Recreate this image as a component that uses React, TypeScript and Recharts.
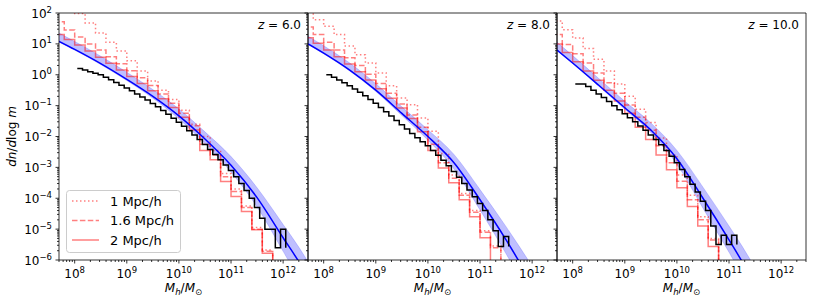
import React from "react";
import { ComposedChart, Line, Area, XAxis, YAxis, Legend } from "recharts";

const W = 814;
const H = 304;
const TOP = 13;
const BOTTOM = 260;
const FONT = "DejaVu Sans, Verdana, sans-serif";

const xDomain = [5e7, 3e12];
const yDomain = [1e-6, 1e2];
const xMajor = [1e8, 1e9, 1e10, 1e11, 1e12];
const yMajor = [1e-6, 1e-5, 1e-4, 1e-3, 1e-2, 1e-1, 1e0, 1e1, 1e2];
const minorSubs = [2, 3, 4, 5, 6, 7, 8, 9];

const legendLabels = ["1 Mpc/h", "1.6 Mpc/h", "2 Mpc/h"];

// histogram binning (log10 M): black = simulation, red = boxes
const blackStart = 8.05;
const blackWidth = 0.1;
const boxStart = 7.6;
const boxWidth = 0.2;

// ---- z = 6 ---- (all values log10)
const curveLogM6 = [7.7, 8.0, 8.5, 9.0, 9.5, 10.0, 10.5, 11.0, 11.5, 12.0, 12.3, 12.5];
const curve6 = [1.08, 0.82, 0.36, -0.15, -0.7, -1.33, -2.08, -2.93, -3.98, -5.28, -6.05, -6.6];
const bandHi6 = [1.35, 1.08, 0.6, 0.08, -0.48, -1.11, -1.85, -2.65, -3.66, -4.85, -5.58, -6.12];
const bandLo6 = [1.06, 0.8, 0.33, -0.19, -0.76, -1.43, -2.23, -3.15, -4.28, -5.72, -6.6, -7.2];
const black6 = [
  0.2, 0.15, 0.1, 0.05, 0.0, -0.08, -0.16, -0.25, -0.34, -0.43, -0.52, -0.62, -0.72, -0.82,
  -0.93, -1.04, -1.16, -1.28, -1.41, -1.54, -1.67, -1.81, -1.95, -2.1, -2.26, -2.42, -2.58,
  -2.75, -2.92, -3.1, -3.3, -3.52, -3.75, -4.0, -4.3, -4.65, -5.0, -5.0, -5.6, -5.0,
];
const solid6 = [1.3, 1.14, 0.96, 0.77, 0.57, 0.37, 0.15, -0.06, -0.28, -0.52, -0.78, -1.06, -1.38, -1.79, -2.45, -2.75, -3.46, -3.94, -4.43, -5.02, -5.78];
const dashed6 = [1.72, 1.45, 1.22, 1.0, 0.8, 0.58, 0.36, 0.13, -0.1, -0.35, -0.62, -0.92, -1.25, -1.65, -2.25, -2.6, -3.3, -3.78, -4.3, -5.0, -5.72];
const dotted6 = [2.5, 2.2, 1.98, 1.68, 1.35, 1.05, 0.77, 0.45, 0.12, -0.2, -0.5, -0.8, -1.15, -1.6, -2.0, -2.45, -3.2, -3.7, -4.25, -4.95, -5.68];

// ---- z = 8 ----
const curveLogM8 = [7.7, 8.0, 8.5, 9.0, 9.5, 10.0, 10.5, 11.0, 11.5, 11.75, 12.0];
const curve8 = [1.0, 0.7, 0.15, -0.5, -1.25, -2.0, -2.85, -4.05, -5.35, -6.05, -6.8];
const bandHi8 = [1.25, 0.94, 0.38, -0.29, -1.04, -1.78, -2.58, -3.72, -4.92, -5.55, -6.2];
const bandLo8 = [0.98, 0.68, 0.12, -0.54, -1.32, -2.12, -3.05, -4.38, -5.8, -6.55, -7.4];
const black8 = [
  0.0, -0.08, -0.17, -0.26, -0.36, -0.46, -0.57, -0.68, -0.8, -0.92, -1.06, -1.2, -1.34,
  -1.48, -1.62, -1.76, -1.9, -2.04, -2.17, -2.3, -2.45, -2.61, -2.77, -2.95, -3.13, -3.32,
  -3.52, -3.73, -3.95, -4.17, -4.4, -4.7, -5.05, -5.56, -5.24,
];
const solid8 = [1.2, 1.02, 0.8, 0.58, 0.35, 0.1, -0.17, -0.45, -0.76, -1.08, -1.42, -1.85, -2.45, -3.02, -3.5, -4.05, -4.6, -5.28];
const dashed8 = [1.55, 1.3, 1.05, 0.8, 0.55, 0.3, 0.02, -0.28, -0.6, -0.95, -1.3, -1.7, -2.25, -2.85, -3.35, -3.9, -4.45, -5.1, -5.6];
const dotted8 = [2.3, 1.78, 1.57, 1.3, 0.93, 0.65, 0.38, 0.06, -0.36, -0.75, -0.97, -1.4, -1.83, -2.55, -3.25, -3.85, -4.4, -5.05, -5.55];

// ---- z = 10 ----
const curveLogM10 = [7.7, 8.0, 8.5, 9.0, 9.5, 10.0, 10.5, 11.0, 11.25, 11.5];
const curve10 = [0.8, 0.38, -0.34, -1.07, -1.79, -2.72, -4.0, -5.35, -6.05, -6.8];
const bandHi10 = [1.05, 0.62, -0.12, -0.86, -1.56, -2.45, -3.64, -4.9, -5.55, -6.25];
const bandLo10 = [0.78, 0.36, -0.37, -1.12, -1.87, -2.9, -4.32, -5.75, -6.5, -7.3];
const black10 = [
  -0.3, -0.3, -0.38, -0.5, -0.62, -0.74, -0.87, -1.0, -1.13, -1.26, -1.39, -1.52, -1.66,
  -1.8, -1.95, -2.1, -2.27, -2.45, -2.64, -2.85, -3.07, -3.3, -3.55, -3.8, -4.1, -4.4, -4.9,
  -5.5, -5.2, -5.5, -5.2,
];
const solid10 = [1.0, 0.72, 0.42, 0.12, -0.18, -0.5, -0.85, -1.25, -1.7, -2.1, -2.6, -3.08, -3.66, -4.27, -4.9, -5.56];
const dashed10 = [1.3, 0.98, 0.68, 0.38, 0.06, -0.26, -0.6, -0.98, -1.38, -1.8, -2.3, -2.85, -3.45, -4.05, -4.7, -5.35];
const dotted10 = [1.74, 1.46, 1.19, 0.85, 0.5, 0.12, -0.3, -0.7, -1.12, -1.55, -2.05, -2.6, -3.25, -3.9, -4.6, -5.3];

const panels = [
  { left: 59, right: 308, z: "6.0", cm: curveLogM6, c: curve6, hi: bandHi6, lo: bandLo6, black: black6, blackEnd: -5.6, solid: solid6, dashed: dashed6, dotted: dotted6 },
  { left: 308, right: 557, z: "8.0", cm: curveLogM8, c: curve8, hi: bandHi8, lo: bandLo8, black: black8, blackEnd: -5.56, solid: solid8, dashed: dashed8, dotted: dotted8 },
  { left: 557, right: 806, z: "10.0", cm: curveLogM10, c: curve10, hi: bandHi10, lo: bandLo10, black: black10, blackEnd: -5.5, solid: solid10, dashed: dashed10, dotted: dotted10 },
];

const withMinor = (majors: number[], lo: number, hi: number) => {
  const out: number[] = [...majors];
  for (let e = -7; e <= 12; e++) {
    for (const s of minorSubs) {
      const v = s * Math.pow(10, e);
      if (v >= lo * 0.999 && v <= hi * 1.001) out.push(v);
    }
  }
  return out.sort((a, b) => a - b);
};
const xTicks = withMinor(xMajor, xDomain[0], xDomain[1]);
const yTicks = withMinor(yMajor, yDomain[0], yDomain[1]);

const curveRows = (p: any) =>
  p.cm.map((m: number, i: number) => ({
    m: Math.pow(10, m),
    n: Math.pow(10, p.c[i]),
    band: [Math.pow(10, p.lo[i]), Math.pow(10, p.hi[i])],
  }));

const stepRows = (start: number, width: number, vals: number[], end: number) => {
  const rows = vals.map((v, i) => ({ m: Math.pow(10, start + i * width), n: Math.pow(10, v) }));
  const lastEdge = Math.pow(10, start + vals.length * width);
  rows.push({ m: lastEdge, n: Math.pow(10, vals[vals.length - 1]) });
  rows.push({ m: lastEdge, n: Math.pow(10, end) });
  return rows;
};

const isMajor = (v: number) => {
  const e = Math.round(Math.log10(v));
  return Math.abs(v / Math.pow(10, e) - 1) < 1e-6;
};
const expText = (v: number) => {
  const e = Math.round(Math.log10(v));
  return e < 0 ? "\u2212" + -e : String(e);
};

function XTick(props: any) {
  const { x, y, payload } = props;
  const major = isMajor(payload.value);
  return (
    <g>
      <line x1={x} x2={x} y1={y} y2={y + (major ? 3.5 : 2)} stroke="#000" strokeWidth={0.8} />
      {major && (
        <text x={x} y={y + 18} textAnchor="middle" fontFamily={FONT} fontSize={12} fill="#000">
          10
          <tspan dy={-5} fontSize={8.5}>
            {expText(payload.value)}
          </tspan>
        </text>
      )}
    </g>
  );
}

function YTick(props: any) {
  const { x, y, payload, showLabel } = props;
  const major = isMajor(payload.value);
  return (
    <g>
      <line x1={x - (major ? 3.5 : 2)} x2={x} y1={y} y2={y} stroke="#000" strokeWidth={0.8} />
      {major && showLabel && (
        <text x={x - 7} y={y + 4.5} textAnchor="end" fontFamily={FONT} fontSize={12} fill="#000">
          10
          <tspan dy={-5} fontSize={8.5}>
            {expText(payload.value)}
          </tspan>
        </text>
      )}
    </g>
  );
}

const RED = "#ff0000";

function LegendBox() {
  const rows = [
    { label: legendLabels[0], dash: "1.5 2.5" },
    { label: legendLabels[1], dash: "5.5 2.4" },
    { label: legendLabels[2], dash: undefined },
  ];
  return (
    <svg width={116} height={64} style={{ display: "block" }}>
      <rect x={0.5} y={0.5} width={114} height={62} rx={3} fill="#fff" fillOpacity={0.8} stroke="#cccccc" />
      {rows.map((r, i) => (
        <g key={r.label}>
          <line x1={6} x2={33} y1={11 + i * 19.5} y2={11 + i * 19.5} stroke={RED} strokeOpacity={0.5} strokeWidth={1.5} strokeDasharray={r.dash} />
          <text x={44} y={15.5 + i * 19.5} fontFamily={FONT} fontSize={13} fill="#000">
            {r.label}
          </text>
        </g>
      ))}
    </svg>
  );
}

// axes need a size of at least 1px or recharts skips drawing them
const AX = 1;

function Panel({ p, idx }: { p: any; idx: number }) {
  const rows = curveRows(p);
  const blackRows = stepRows(blackStart, blackWidth, p.black, p.blackEnd);
  const solidRows = stepRows(boxStart, boxWidth, p.solid, -8);
  const dashedRows = stepRows(boxStart, boxWidth, p.dashed, -8);
  const dottedRows = stepRows(boxStart, boxWidth, p.dotted, -8);
  return (
    <div style={{ position: "absolute", left: 0, top: 0 }}>
      <ComposedChart
        width={W}
        height={H}
        data={rows}
        margin={{ top: TOP - AX, bottom: H - BOTTOM - AX, left: p.left - AX, right: W - p.right - AX }}
      >
        <XAxis
          dataKey="m"
          type="number"
          scale="log"
          domain={xDomain}
          allowDataOverflow
          ticks={xTicks}
          interval={0}
          height={AX}
          tickSize={0}
          tickMargin={0}
          tickLine={false}
          axisLine={{ stroke: "#000", strokeWidth: 0.8 }}
          tick={(t: any) => <XTick {...t} />}
        />
        <XAxis
          xAxisId="top"
          orientation="top"
          type="number"
          scale="log"
          domain={xDomain}
          allowDataOverflow
          height={AX}
          tick={false}
          tickLine={false}
          axisLine={{ stroke: "#000", strokeWidth: 0.8 }}
        />
        <YAxis
          type="number"
          scale="log"
          domain={yDomain}
          allowDataOverflow
          ticks={yTicks}
          interval={0}
          width={AX}
          tickSize={0}
          tickMargin={0}
          tickLine={false}
          axisLine={{ stroke: "#000", strokeWidth: 0.8 }}
          tick={(t: any) => <YTick {...t} showLabel={idx === 0} />}
        />
        <YAxis
          yAxisId="right"
          orientation="right"
          type="number"
          scale="log"
          domain={yDomain}
          allowDataOverflow
          width={AX}
          tick={false}
          tickLine={false}
          axisLine={{ stroke: "#000", strokeWidth: 0.8 }}
        />
        <Area
          dataKey="band"
          type="monotone"
          fill="#0000ff"
          fillOpacity={0.25}
          stroke="#0000ff"
          strokeOpacity={0.2}
          strokeWidth={0.8}
          isAnimationActive={false}
          dot={false}
          activeDot={false}
        />
        <Line data={dottedRows} dataKey="n" type="stepAfter" stroke={RED} strokeOpacity={0.5} strokeWidth={1.5} strokeDasharray="1.5 2.5" dot={false} activeDot={false} isAnimationActive={false} />
        <Line data={dashedRows} dataKey="n" type="stepAfter" stroke={RED} strokeOpacity={0.5} strokeWidth={1.5} strokeDasharray="5.5 2.4" dot={false} activeDot={false} isAnimationActive={false} />
        <Line data={solidRows} dataKey="n" type="stepAfter" stroke={RED} strokeOpacity={0.5} strokeWidth={1.5} dot={false} activeDot={false} isAnimationActive={false} />
        <Line dataKey="n" type="monotone" stroke="#0000ff" strokeWidth={1.5} dot={false} activeDot={false} isAnimationActive={false} />
        <Line data={blackRows} dataKey="n" type="stepAfter" stroke="#000" strokeWidth={1.5} dot={false} activeDot={false} isAnimationActive={false} />
        {idx === 0 && (
          <Legend
            layout="horizontal"
            align="center"
            verticalAlign="middle"
            wrapperStyle={{ left: 66, top: 190, width: 116, height: 64 }}
            content={() => <LegendBox />}
          />
        )}
      </ComposedChart>
    </div>
  );
}

export default function App() {
  return (
    <div style={{ position: "absolute", left: 0, top: 0, width: W, height: H, background: "#fff" }}>
      {panels.map((p, i) => (
        <Panel key={p.z} p={p} idx={i} />
      ))}
      <svg width={W} height={H} style={{ position: "absolute", left: 0, top: 0, pointerEvents: "none" }}>
        {panels.map((p) => (
          <g key={p.z}>
            <text x={p.right - 7} y={29} textAnchor="end" fontFamily={FONT} fontSize={12} fill="#000">
              <tspan fontStyle="italic">z</tspan> = {p.z}
            </text>
            <text x={(p.left + p.right) / 2} y={292} textAnchor="middle" fontFamily={FONT} fontSize={12} fill="#000">
              <tspan fontStyle="italic">M</tspan>
              <tspan fontStyle="italic" fontSize={8.5} dy={2.5}>h</tspan>
              <tspan dy={-2.5}>/</tspan>
              <tspan fontStyle="italic">M</tspan>
              <tspan fontSize={8.5} dy={2.5}>⊙</tspan>
            </text>
          </g>
        ))}
        <text transform="translate(16,136.5) rotate(-90)" textAnchor="middle" fontFamily={FONT} fontSize={12} fill="#000">
          <tspan fontStyle="italic">dn</tspan>
          <tspan>/</tspan>
          <tspan fontStyle="italic">d</tspan>
          <tspan>log </tspan>
          <tspan fontStyle="italic">m</tspan>
        </text>
      </svg>
    </div>
  );
}
